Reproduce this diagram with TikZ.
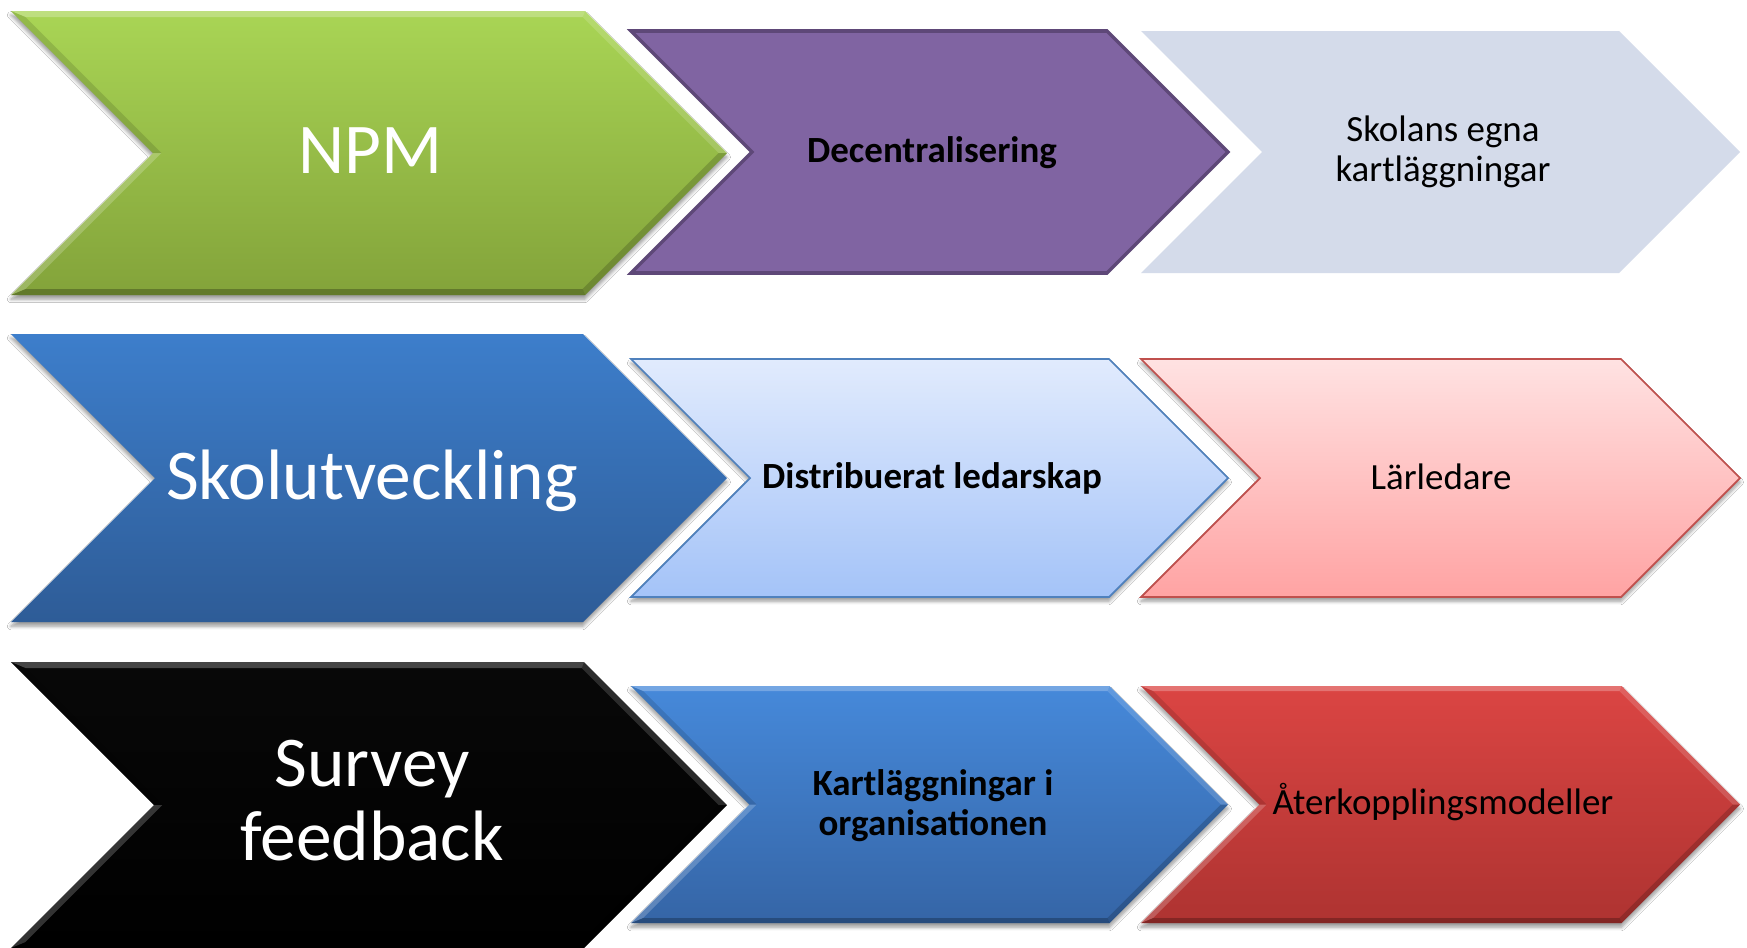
\documentclass[tikz,border=0pt]{standalone}
\usepackage{fontspec}
\setmainfont{Carlito}
\usetikzlibrary{shadows.blur}

% fill colours
\definecolor{grnTop}{HTML}{A9D555}
\definecolor{grnBot}{HTML}{83A33A}
\definecolor{purFill}{HTML}{8064A2}
\definecolor{purLine}{HTML}{5E4878}
\definecolor{greyFill}{HTML}{D4DBEA}
\definecolor{bluTop}{HTML}{3D7ECB}
\definecolor{bluBot}{HTML}{2E5C97}
\definecolor{lbTop}{HTML}{E1EBFD}
\definecolor{lbBot}{HTML}{A4C3F8}
\definecolor{lbLine}{HTML}{4F81BD}
\definecolor{pkTop}{HTML}{FFE2E2}
\definecolor{pkBot}{HTML}{FFA3A3}
\definecolor{pkLine}{HTML}{C0504D}
\definecolor{bkTop}{HTML}{080808}
\definecolor{bkBot}{HTML}{000000}
\definecolor{b2Top}{HTML}{4689DA}
\definecolor{b2Bot}{HTML}{3565A6}
\definecolor{rdTop}{HTML}{DB4543}
\definecolor{rdBot}{HTML}{AE3331}

\tikzset{
  bigtext/.style={font=\fontsize{20.3}{21}\selectfont, text=white, align=center, inner sep=0pt},
  smalltext/.style={font=\fontsize{10.5}{11.4}\selectfont, text=black, align=center, inner sep=0pt},
  smallbold/.style={font=\fontsize{10.5}{11.4}\selectfont\bfseries, text=black, align=center, inner sep=0pt},
  softshadow/.style={blur shadow={shadow xshift=0pt, shadow yshift=-1.2pt,
      shadow blur radius=1.0pt, shadow blur steps=6, shadow opacity=40}},
  bevhi/.style={fill=white},
  bevlo/.style={fill=black},
}

% chevron outline: #1 style, #2 left x, #3 top y, #4 bottom y, #5 tip x (45 degree sides)
\newcommand{\chevshape}[5]{%
  \path[#1] (#2,#3) -- ({#5-(#4-#3)/2},#3) -- (#5,{(#3+#4)/2})
    -- ({#5-(#4-#3)/2},#4) -- (#2,#4) -- ({#2+(#4-#3)/2},{(#3+#4)/2}) -- cycle;}

% bevel facets inside a chevron: #1 left, #2 top, #3 bottom, #4 tip, #5 bevel width
\newcommand{\bevelfacets}[5]{%
  \pgfmathsetmacro\bvD{(#3-#2)/2}%
  \pgfmathsetmacro\bvM{(#3+#2)/2}%
  \pgfmathsetmacro\bvAx{#1+#5*2.4142}%
  \pgfmathsetmacro\bvBo{#4-\bvD}%
  \pgfmathsetmacro\bvBx{#4-\bvD-#5*0.4142}%
  \pgfmathsetmacro\bvCx{#4-#5*1.4142}%
  \pgfmathsetmacro\bvFo{#1+\bvD}%
  \pgfmathsetmacro\bvFx{#1+\bvD+#5*1.4142}%
  \pgfmathsetmacro\bvTi{#2+#5}%
  \pgfmathsetmacro\bvBi{#3-#5}%
  \fill[bevhi, fill opacity=0.25] (#1,#2) -- (\bvBo,#2) -- (\bvBx,\bvTi) -- (\bvAx,\bvTi) -- cycle;
  \fill[bevhi, fill opacity=0.15] (\bvBo,#2) -- (#4,\bvM) -- (\bvCx,\bvM) -- (\bvBx,\bvTi) -- cycle;
  \fill[bevlo, fill opacity=0.17] (#4,\bvM) -- (\bvBo,#3) -- (\bvBx,\bvBi) -- (\bvCx,\bvM) -- cycle;
  \fill[bevlo, fill opacity=0.25] (\bvBo,#3) -- (#1,#3) -- (\bvAx,\bvBi) -- (\bvBx,\bvBi) -- cycle;
  \fill[bevhi, fill opacity=0.20] (#1,#3) -- (\bvFo,\bvM) -- (\bvFx,\bvM) -- (\bvAx,\bvBi) -- cycle;
  \fill[bevlo, fill opacity=0.12] (\bvFo,\bvM) -- (#1,#2) -- (\bvAx,\bvTi) -- (\bvFx,\bvM) -- cycle;
}

\begin{document}
\begin{tikzpicture}[x=0.01cm, y=-0.01cm]
\useasboundingbox (0,0) rectangle (1747,948);
\fill[white] (0,0) rectangle (1747,948);

% ---- row 1 ----
\chevshape{fill=greyFill}{1141}{31}{273}{1740}
\chevshape{fill=purFill, draw=purLine, line width=1pt, line join=miter}{631}{31}{273}{1228}
\chevshape{softshadow, top color=grnTop, bottom color=grnBot}{11}{11}{295}{727}
\bevelfacets{11}{11}{295}{727}{6}

% ---- row 2 ----
\chevshape{softshadow, top color=pkTop, bottom color=pkBot, draw=pkLine, line width=0.5pt}{1141}{359}{597}{1740}
\chevshape{softshadow, top color=lbTop, bottom color=lbBot, draw=lbLine, line width=0.5pt}{631}{359}{597}{1228}
\chevshape{softshadow, top color=bluTop, bottom color=bluBot}{11}{334}{622}{727}

% ---- row 3 ----
\chevshape{softshadow, top color=rdTop, bottom color=rdBot}{1141}{686}{923}{1740}
\bevelfacets{1141}{686}{923}{1740}{5}
\chevshape{softshadow, top color=b2Top, bottom color=b2Bot}{631}{686}{923}{1228}
\bevelfacets{631}{686}{923}{1228}{5}
\chevshape{top color=bkTop, bottom color=bkBot}{11}{662}{948}{727}
\bevelfacets{11}{662}{948}{727}{6}

% ---- labels ----
\node[bigtext, anchor=base] (npm) at (370,173) {NPM};
\node[smallbold, anchor=base] (decent) at (932,162) {Decentralisering};
\node[smalltext] (skolans) at (1443,152) {Skolans egna\\kartläggningar};

\node[bigtext, anchor=base] (skolutv) at (372,499) {Skolutveckling};
\node[smallbold, anchor=base] (distrib) at (932,488) {Distribuerat ledarskap};
\node[smalltext, anchor=base] (larled) at (1441,489) {Lärledare};

\node[bigtext] (survey) at (372,801) {Survey\\feedback};
\node[smallbold] (kartl) at (933,806) {Kartläggningar i\\organisationen};
\node[smalltext, anchor=base] (aterk) at (1443,814) {Återkopplingsmodeller};
\end{tikzpicture}
\end{document}
